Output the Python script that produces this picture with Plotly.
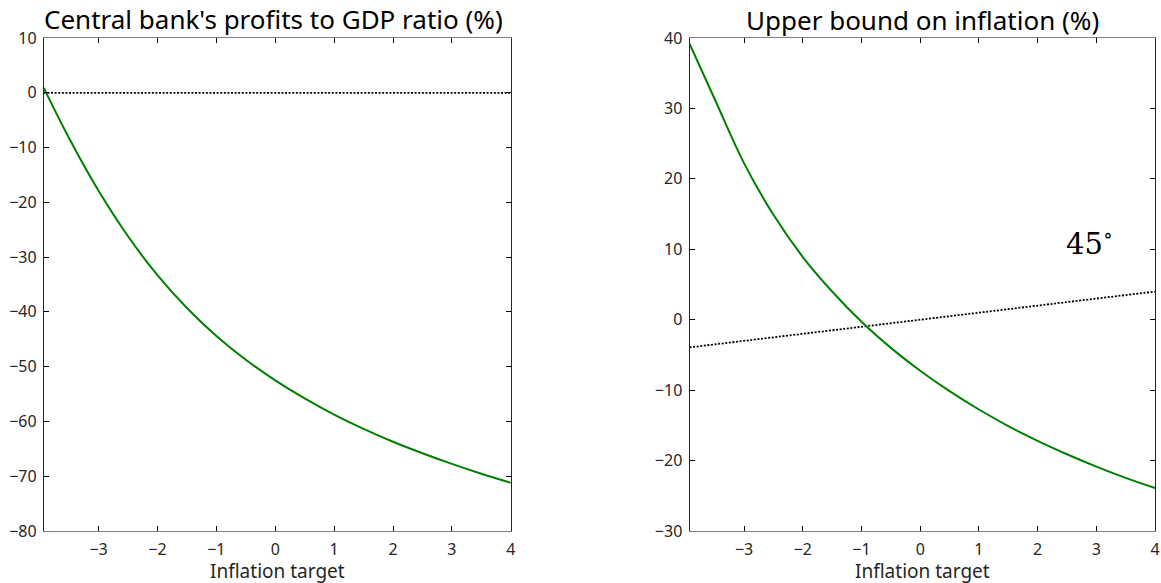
import plotly.graph_objects as go

# Inflation target grid (percent)
target = [-3.93, -3.5, -3.0, -2.5, -2.0, -1.5, -1.0, -0.5, 0.0, 0.5, 1.0, 1.5, 2.0, 2.5, 3.0, 3.5, 4.0]

# Central bank's profits to GDP ratio (%)
profits_gdp = [0.9, -8.3, -17.9, -26.2, -33.3, -39.3, -44.4, -48.75, -52.5, -55.8, -58.75,
               -61.35, -63.7, -65.8, -67.75, -69.55, -71.2]

# Upper bound on inflation (%)
upper_bound = [39.2, 31.3, 22.2, 14.9, 8.9, 4.0, -0.3, -4.0, -7.25, -10.15, -12.75,
               -15.1, -17.2, -19.1, -20.85, -22.45, -23.9]

x_span = [target[0], target[-1]]
zero_line = [0, 0]

left_ticks_y = [10, 0, -10, -20, -30, -40, -50, -60, -70, -80]
right_ticks_y = [40, 30, 20, 10, 0, -10, -20, -30]
ticks_x = [-3, -2, -1, 0, 1, 2, 3, 4]

W, H = 1161, 583
GREEN = "#008000"
FONT = "Noto Sans"
SERIF = "DejaVu Serif"
DOTS = "2px,1.6px"

fig = go.Figure()

fig.add_trace(go.Scatter(x=x_span, y=zero_line, mode="lines",
                         line=dict(color="black", width=1.8, dash=DOTS),
                         xaxis="x", yaxis="y", hoverinfo="skip"))
fig.add_trace(go.Scatter(x=target, y=profits_gdp, mode="lines",
                         line=dict(color=GREEN, width=2, shape="spline", smoothing=1),
                         xaxis="x", yaxis="y"))

fig.add_trace(go.Scatter(x=x_span, y=x_span, mode="lines",
                         line=dict(color="black", width=1.8, dash=DOTS),
                         xaxis="x2", yaxis="y2", hoverinfo="skip"))
fig.add_trace(go.Scatter(x=target, y=upper_bound, mode="lines",
                         line=dict(color=GREEN, width=2, shape="spline", smoothing=1),
                         xaxis="x2", yaxis="y2"))

common_x = dict(range=x_span, tickvals=ticks_x, ticks="inside", ticklen=5,
                tickcolor="black", showline=True, linecolor="#7f7f7f", linewidth=1,
                mirror="ticks", showgrid=False, zeroline=False,
                tickfont=dict(family=FONT, size=16, color="#262626"),
                ticklabelstandoff=4)
common_y = dict(ticks="inside", ticklen=5, tickcolor="black", showline=True,
                linecolor="#262626", linewidth=1, mirror="ticks", showgrid=False,
                zeroline=False, tickfont=dict(family=FONT, size=16, color="#262626"),
                ticklabelstandoff=3)

fig.update_layout(
    width=W, height=H,
    margin=dict(l=0, r=0, t=38, b=52),
    paper_bgcolor="white", plot_bgcolor="white",
    showlegend=False,
    xaxis=dict(domain=[44 / W, 513 / W], anchor="y", **common_x),
    yaxis=dict(domain=[0, 1], anchor="x", range=[-80, 10], tickvals=left_ticks_y, **common_y),
    xaxis2=dict(domain=[692.5 / W, 1160 / W], anchor="y2", **common_x),
    yaxis2=dict(domain=[0, 1], anchor="x2", range=[-30, 40], tickvals=right_ticks_y, **common_y),
)

titles = [
    ("x domain", "y domain", "Central bank's profits to GDP ratio (%)", 26, -0.008, -1),
    ("x2 domain", "y2 domain", "Upper bound on inflation (%)", 26, 0.0, -2),
]
for xr, yr, txt, size, dx, dy in titles:
    fig.add_annotation(xref=xr, yref=yr, x=0.5 + dx, y=1, xanchor="center", yanchor="bottom",
                       text=txt, showarrow=False, yshift=dy,
                       font=dict(family=FONT, size=size, color="black"))
    fig.add_annotation(xref=xr, yref=yr, x=0.5, y=0, xanchor="center", yanchor="middle",
                       text="Inflation target", showarrow=False, yshift=-40,
                       font=dict(family=FONT, size=19, color="#262626"))

fig.add_annotation(xref="x2", yref="y2", x=2.88, y=11.0, xanchor="center", yanchor="middle",
                   text="45<sup>∘</sup>", showarrow=False,
                   font=dict(family=SERIF, size=29, color="black"))

fig.write_html("out.html")
